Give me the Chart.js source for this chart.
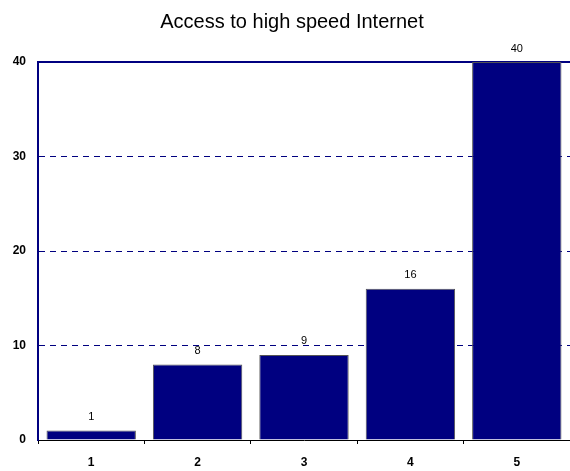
<!DOCTYPE html>
<html lang="en">
<head>
    <meta charset="UTF-8">
    <title>Access to high speed Internet</title>
    <script src="https://cdn.jsdelivr.net/npm/chart.js@4"></script>
    <style>
        body { margin: 0; background: #fff; }
        #wrap { width: 570px; height: 471px; }
    </style>
</head>
<body>
<div id="wrap"><canvas id="myChart"></canvas></div>
<script>
    var categories = ['1', '2', '3', '4', '5']
    var values = [1, 8, 9, 16, 40]
    var yTicks = [0, 10, 20, 30, 40]
    var chartTitle = 'Access to high speed Internet'

    // title drawn by hand so the plot top can be placed exactly
    var titlePlugin = {
        id: 'titleText',
        afterDraw: function(chart) {
            var ctx = chart.ctx
            ctx.save()
            ctx.font = '20px "Liberation Sans", Arial, sans-serif'
            ctx.fillStyle = '#000'
            ctx.textAlign = 'center'
            ctx.textBaseline = 'middle'
            ctx.fillText(chartTitle, 292, 22)
            ctx.restore()
        }
    }

    // value labels above each bar
    var valuePlugin = {
        id: 'valueLabels',
        afterDatasetsDraw: function(chart) {
            var ctx = chart.ctx
            var meta = chart.getDatasetMeta(0)
            ctx.save()
            ctx.font = '11px "Liberation Sans", Arial, sans-serif'
            ctx.fillStyle = '#000'
            ctx.textAlign = 'center'
            ctx.textBaseline = 'bottom'
            meta.data.forEach(function(bar, i) {
                ctx.fillText(values[i], bar.x, bar.y - 8)
            })
            ctx.restore()
        }
    }

    var ctx = document.getElementById('myChart').getContext('2d')
    var chart = new Chart(ctx, {
        type: 'bar',
        data: {
            labels: categories,
            datasets: [{
                data: values,
                backgroundColor: '#000080',
                borderColor: '#555',
                borderWidth: 1,
                barPercentage: 0.84,
                categoryPercentage: 1.0
            }]
        },
        options: {
            responsive: true,
            maintainAspectRatio: false,
            animation: false,
            layout: { padding: { top: 62, right: -1, left: 0, bottom: 0 } },
            plugins: {
                legend: { display: false },
                title: { display: false },
                tooltip: { enabled: false }
            },
            scales: {
                x: {
                    offset: true,
                    grid: {
                        offset: true,
                        drawOnChartArea: false,
                        drawTicks: true,
                        tickLength: 4,
                        color: '#000'
                    },
                    border: { display: true, color: '#000', width: 1 },
                    ticks: {
                        color: '#000',
                        padding: 11,
                        font: { family: '"Liberation Sans", Arial, sans-serif', size: 12, weight: 'bold' }
                    },
                    afterFit: function(scale) { scale.height = 31 }
                },
                y: {
                    min: 0,
                    max: 40,
                    afterBuildTicks: function(scale) {
                        scale.ticks = yTicks.map(function(v) { return { value: v } })
                    },
                    grid: {
                        drawTicks: false,
                        color: function(c) { return c.tick && c.tick.value === 0 ? 'rgba(0,0,0,0)' : '#000080' },
                        lineWidth: function(c) { return c.tick && c.tick.value === 40 ? 2 : 1 }
                    },
                    border: {
                        display: true,
                        color: '#000080',
                        width: 2,
                        dash: function(c) { return c.tick && c.tick.value === 40 ? [] : [6, 5] }
                    },
                    ticks: {
                        color: '#000',
                        padding: 12,
                        font: { family: '"Liberation Sans", Arial, sans-serif', size: 12, weight: 'bold' }
                    },
                    afterFit: function(scale) { scale.width = 38 }
                }
            }
        },
        plugins: [titlePlugin, valuePlugin]
    })
</script>
</body>
</html>
